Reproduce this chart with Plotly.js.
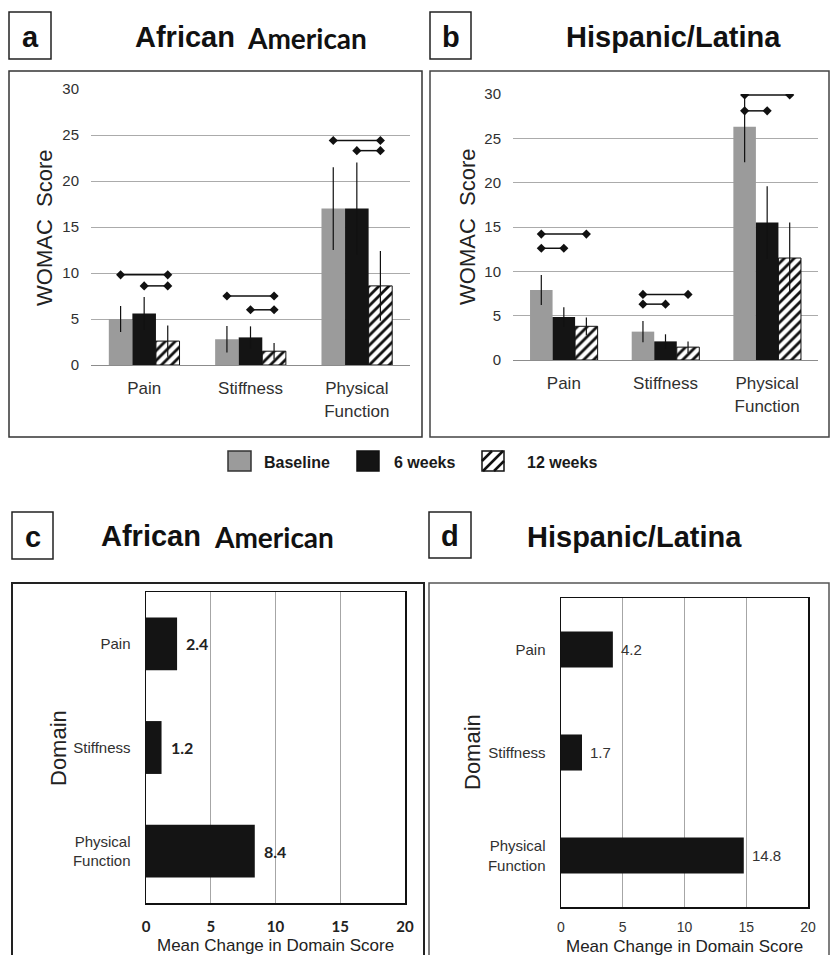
<!DOCTYPE html>
<html><head><meta charset="utf-8">
<script src="https://cdn.plot.ly/plotly-3.0.1.min.js"></script>
<style>html,body{margin:0;padding:0;background:#fff}#chart{width:830px;height:955px}</style>
</head><body><div id="chart"></div>
<script>
// ---------- DATA ----------
const categories = ['Pain', 'Stiffness', 'Physical Function'];
const categoryTicks = ['Pain', 'Stiffness', 'Physical<br>Function'];
const seriesNames = ['Baseline', '6 weeks', '12 weeks'];

// Panel a: African American WOMAC scores
const aaBaseline = [5.0, 2.8, 17.0];
const aaBaselineErr = [1.4, 1.45, 4.5];
const aaWeek6 = [5.6, 3.0, 17.0];
const aaWeek6Err = [1.8, 1.2, 5.0];
const aaWeek12 = [2.6, 1.5, 8.6];
const aaWeek12Err = [1.7, 0.9, 3.8];
// significance brackets: [category index, from series, to series, level]
const aaBrackets = [[0, 0, 2, 9.8], [0, 1, 2, 8.6], [1, 0, 2, 7.5], [1, 1, 2, 6.0], [2, 0, 2, 24.4], [2, 1, 2, 23.3]];

// Panel b: Hispanic/Latina WOMAC scores
const hlBaseline = [7.9, 3.2, 26.3];
const hlBaselineErr = [1.7, 1.2, 4.0];
const hlWeek6 = [4.85, 2.1, 15.5];
const hlWeek6Err = [1.1, 0.8, 4.1];
const hlWeek12 = [3.8, 1.45, 11.5];
const hlWeek12Err = [1.0, 0.65, 4.0];
const hlBrackets = [[0, 0, 2, 14.2], [0, 0, 1, 12.6], [1, 0, 2, 7.4], [1, 0, 1, 6.3], [2, 0, 2, 29.9], [2, 0, 1, 28.1]];

// Panels c, d: mean change in domain score
const aaChange = [2.4, 1.2, 8.4];
const hlChange = [4.2, 1.7, 14.8];

const womacTicks = [0, 5, 10, 15, 20, 25, 30];
const changeTicks = [0, 5, 10, 15, 20];

// ---------- STYLE / LAYOUT ----------
const W = 830, H = 955;
const fx = p => p / W;
const fy = p => 1 - p / H;
const ARIAL = 'Liberation Sans, Arial, sans-serif';
const CAL = 'Lato, Carlito, sans-serif';
const GRAY = '#9b9b9b', BLACK = '#141414';
const BARGAP = 0.335;
const barW = (1 - BARGAP) / 3;

function groupBars(vals, errs, xa, ya) {
  const styles = [
    {color: GRAY, line: {width: 0}},
    {color: BLACK, line: {width: 0}},
    {color: 'white', line: {color: '#111', width: 1},
     pattern: {shape: '/', fgcolor: '#111', bgcolor: 'white', size: 7, solidity: 0.4}}
  ];
  return vals.map((v, i) => ({
    type: 'bar', x: [0, 1, 2], y: v, name: seriesNames[i], xaxis: xa, yaxis: ya,
    marker: styles[i], showlegend: false, hoverinfo: 'skip',
    error_y: {type: 'data', array: errs[i], color: '#111', thickness: 1.2, width: 0}
  }));
}
function brackets(list, xa, ya) {
  const xs = [], ys = [];
  list.forEach(([c, s0, s1, lvl]) => {
    xs.push(c + (s0 - 1) * barW, c + (s1 - 1) * barW, null);
    ys.push(lvl, lvl, null);
  });
  return {type: 'scatter', mode: 'lines+markers', x: xs, y: ys, xaxis: xa, yaxis: ya,
    line: {color: '#111', width: 1.5}, marker: {symbol: 'diamond', size: 7, color: '#111'},
    showlegend: false, hoverinfo: 'skip', connectgaps: false};
}
function hbar(vals, xa, ya, width) {
  return {type: 'bar', orientation: 'h', x: vals, y: [0, 1, 2], xaxis: xa, yaxis: ya, width: width,
    marker: {color: BLACK, line: {width: 0}}, showlegend: false, hoverinfo: 'skip'};
}

const data = [
  ...groupBars([aaBaseline, aaWeek6, aaWeek12], [aaBaselineErr, aaWeek6Err, aaWeek12Err], 'x', 'y'),
  brackets(aaBrackets, 'x', 'y'),
  ...groupBars([hlBaseline, hlWeek6, hlWeek12], [hlBaselineErr, hlWeek6Err, hlWeek12Err], 'x2', 'y2'),
  brackets(hlBrackets, 'x2', 'y2'),
  hbar(aaChange, 'x3', 'y3', 0.51),
  hbar(hlChange, 'x4', 'y4', 0.35)
];

const catX = (dom, anchor) => ({
  domain: dom, anchor: anchor, range: [-0.5, 2.5], tickmode: 'array', tickvals: [0, 1, 2], ticktext: categoryTicks,
  showgrid: false, zeroline: false, showline: true, linecolor: '#8c8c8c', linewidth: 1, ticks: '',
  tickfont: {family: ARIAL, size: 17, color: '#303030'}, ticklabelstandoff: 8, fixedrange: true
});
const womacY = (dom, anchor) => ({
  domain: dom, anchor: anchor, range: [0, 30], tickmode: 'array', tickvals: womacTicks,
  showgrid: true, gridcolor: '#ababab', gridwidth: 1, zeroline: false, showline: false, ticks: '',
  tickfont: {family: ARIAL, size: 15, color: '#303030'}, ticklabelstandoff: 11, fixedrange: true
});
const changeX = (dom, anchor, bold) => ({
  domain: dom, anchor: anchor, range: [0, 20], tickmode: 'array', tickvals: changeTicks,
  showgrid: true, gridcolor: '#a6a6a6', gridwidth: 1, zeroline: false,
  showline: true, mirror: true, linecolor: '#111', linewidth: 1.5, ticks: '',
  tickfont: bold ? {family: CAL, size: 15, color: '#222', weight: 'bold'} : {family: ARIAL, size: 14, color: '#333'},
  ticklabelstandoff: bold ? 9 : 7, fixedrange: true
});
const domainY = (dom, anchor) => ({
  domain: dom, anchor: anchor, range: [2.5, -0.5], tickmode: 'array', tickvals: [0, 1, 2], ticktext: categoryTicks,
  showgrid: false, zeroline: false, showline: true, mirror: true, linecolor: '#111', linewidth: 1.5, ticks: '',
  tickfont: {family: ARIAL, size: 15, color: '#303030'}, ticklabelstandoff: 11, fixedrange: true
});

const shapes = [];
const rect = (x0, y0, x1, y1, color, width, fill) => shapes.push({type: 'rect', xref: 'paper', yref: 'paper',
  x0: fx(x0), x1: fx(x1), y0: fy(y1), y1: fy(y0), line: {color: color, width: width}, fillcolor: fill || 'rgba(0,0,0,0)', layer: 'above'});
// panel frames
rect(9, 71, 422, 437, '#333', 1.5);
rect(430, 71, 829, 437, '#444', 1.5);
rect(12, 583, 424, 975, '#222', 2);
rect(429, 583, 829, 975, '#555', 1.5);
// letter boxes
rect(9, 12, 51, 59, '#222', 1.5);
rect(430, 12, 471, 59, '#222', 1.5);
rect(12, 512, 53, 559, '#222', 1.5);
rect(429, 512, 471, 558, '#222', 1.5);
// legend keys
rect(228, 451, 251, 471, '#333', 1.5, GRAY);
rect(357, 451, 379, 471, '#111', 1.5, BLACK);
rect(482, 451, 504, 471, '#111', 1.5, 'white');
(function hatch(x0, y0, x1, y1) {
  [10, 21, 32].forEach(off => {
    const c = x0 + y0 + off;
    const xa = Math.max(x0, c - y1), xb = Math.min(x1, c - y0);
    shapes.push({type: 'line', xref: 'paper', yref: 'paper', x0: fx(xa), y0: fy(c - xa), x1: fx(xb), y1: fy(c - xb),
      line: {color: '#111', width: 2.5}, layer: 'above'});
  });
})(482, 451, 504, 471);

const ann = [];
const txt = (x, y, text, font, xanchor, extra) => ann.push(Object.assign({xref: 'paper', yref: 'paper',
  x: fx(x), y: fy(y), text: text, showarrow: false, xanchor: xanchor || 'center', yanchor: 'middle', font: font}, extra || {}));
const BIG = {family: ARIAL, size: 29, color: '#111', weight: 'bold'};
const BIGC = {family: CAL, size: 28, color: '#111', weight: 'bold'};
txt(30, 37, 'a', BIG); txt(451, 37, 'b', BIG); txt(33, 537, 'c', BIG); txt(450, 536, 'd', BIG);
txt(237, 37, 'African', BIG, 'right'); txt(245, 38, 'American', BIGC, 'left');
txt(673, 37, 'Hispanic/Latina', BIG);
txt(203, 536, 'African', BIG, 'right'); txt(212, 537, 'American', BIGC, 'left');
txt(634, 537, 'Hispanic/Latina', BIG);
// axis titles
const TITLE = {family: ARIAL, size: 22, color: '#222'};
txt(44, 228, 'WOMAC\u00a0 Score', TITLE, 'center', {textangle: -90});
txt(467, 227, 'WOMAC\u00a0 Score', TITLE, 'center', {textangle: -90});
txt(58, 748, 'Domain', TITLE, 'center', {textangle: -90});
txt(472, 752, 'Domain', TITLE, 'center', {textangle: -90});
const XT = {family: ARIAL, size: 17, color: '#222'};
txt(275, 945, 'Mean Change in Domain Score', XT);
txt(684, 946, 'Mean Change in Domain Score', XT);
// legend labels
const LEG = {family: ARIAL, size: 16, color: '#1a1a1a', weight: 'bold'};
txt(262, 462, seriesNames[0], LEG, 'left');
txt(392, 462, seriesNames[1], LEG, 'left');
txt(525, 462, seriesNames[2], LEG, 'left');
// value labels on change bars
aaChange.forEach((v, i) => ann.push({xref: 'x3', yref: 'y3', x: v, y: i, text: v.toFixed(1), showarrow: false,
  xanchor: 'left', yanchor: 'middle', xshift: 7, font: {family: CAL, size: 16, color: '#222', weight: 'bold'}}));
hlChange.forEach((v, i) => ann.push({xref: 'x4', yref: 'y4', x: v, y: i, text: v.toFixed(1), showarrow: false,
  xanchor: 'left', yanchor: 'middle', xshift: 6, font: {family: ARIAL, size: 15, color: '#333'}}));

const layout = {
  width: W, height: H, margin: {l: 0, r: 0, t: 0, b: 0}, paper_bgcolor: 'white', plot_bgcolor: 'white',
  barmode: 'group', bargap: BARGAP, bargroupgap: 0, showlegend: false,
  font: {family: ARIAL, color: '#222'},
  xaxis: catX([fx(91), fx(410)], 'y'),
  yaxis: womacY([fy(365), fy(89)], 'x'),
  xaxis2: catX([fx(513), fx(818)], 'y2'),
  yaxis2: womacY([fy(360), fy(94)], 'x2'),
  xaxis3: changeX([fx(146), fx(405)], 'y3', true),
  yaxis3: domainY([fy(903), fy(592)], 'x3'),
  xaxis4: changeX([fx(561), fx(808)], 'y4', false),
  yaxis4: domainY([fy(907), fy(598)], 'x4'),
  shapes: shapes, annotations: ann
};
Plotly.newPlot('chart', data, layout, {staticPlot: true, displayModeBar: false});
</script></body></html>
